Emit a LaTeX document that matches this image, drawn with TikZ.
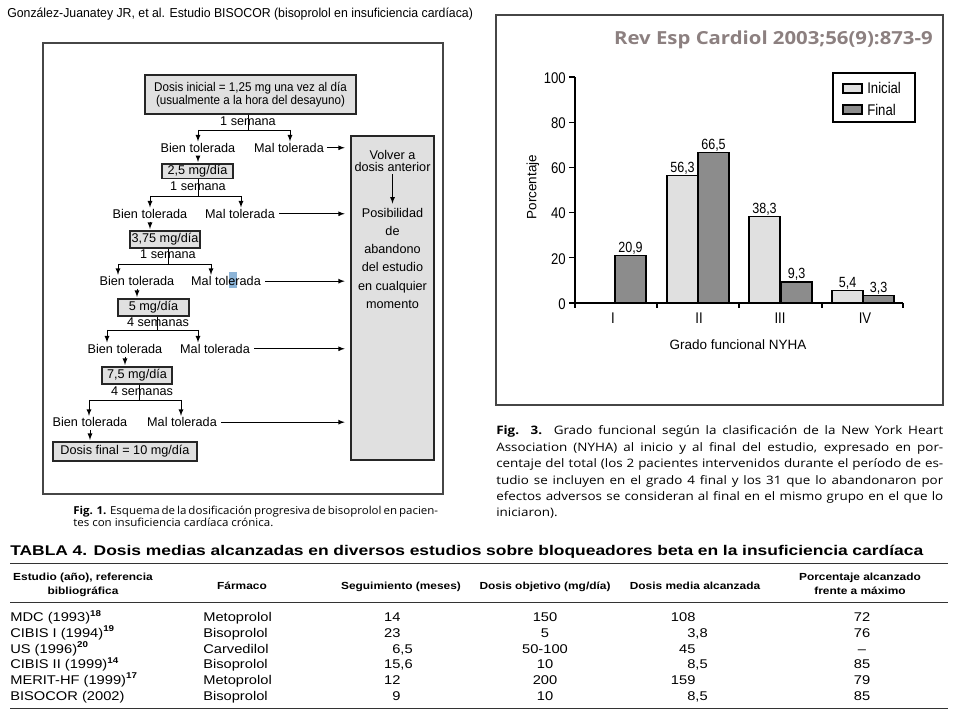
\documentclass[tikz,border=0pt]{standalone}
\usepackage{fontspec}
\setmainfont{Liberation Sans}
\newfontfamily\flowsans{Liberation Sans}
\newfontfamily\boxsans[FakeStretch=0.92]{Liberation Sans}
\newfontfamily\narrowsans[FakeStretch=0.95]{Liberation Sans}
\newfontfamily\chartsans[FakeStretch=0.85]{Liberation Sans}
\newfontfamily\widesans[FakeStretch=1.16]{Liberation Sans}
\newfontfamily\titlesans[FakeStretch=1.24]{Liberation Sans}
\newfontfamily\capsans[FakeStretch=1.15]{Open Sans}
\newfontfamily\capsansn[FakeStretch=1.05]{Open Sans}
\newfontfamily\revsans[FakeStretch=1.13]{Open Sans}

\newdimen\pxl \pxl=0.025cm
\newcommand{\fsz}[2]{\fontsize{#1}{#2}\selectfont}
\newcommand{\jline}[2]{\makebox[#1\pxl][s]{#2}}

\definecolor{boxgray}{RGB}{224,224,224}
\definecolor{bargray}{RGB}{140,140,140}
\definecolor{framegray}{RGB}{70,70,70}
\definecolor{revgray}{RGB}{140,128,128}
\definecolor{selblue}{RGB}{140,180,215}

\tikzset{
  frame/.style={draw=framegray, line width=1.2pt},
  flowtext/.style={font=\flowsans\fsz{9}{9.5}, inner sep=0pt, anchor=base},
  dosebox/.style 2 args={draw=black!85, line width=0.9pt, fill=boxgray, inner sep=0pt,
    align=center, font=\flowsans\fsz{9}{9.5}, minimum width=#1*\pxl, minimum height=#2*\pxl},
  sidebox/.style={draw=black!85, line width=0.9pt, fill=boxgray, inner sep=0pt,
    minimum width=83*\pxl, minimum height=324*\pxl},
  sidetext/.style={font=\flowsans\fsz{9}{#1}, inner sep=0pt, align=center, anchor=north},
  link/.style={line width=0.6pt},
  tip/.style={-latex, line width=0.6pt, shorten >=1pt},
  axisline/.style={line width=0.9pt},
  barbox/.style={draw=black, line width=0.9pt},
  ticklab/.style={font=\chartsans\fsz{11}{12}, inner sep=0pt},
  vallab/.style={font=\chartsans\fsz{10.5}{12}, inner sep=0pt, anchor=base},
  axislab/.style={font=\fsz{9.6}{11}, inner sep=0pt},
  headtext/.style={font=\narrowsans\fsz{9.2}{10}, inner sep=0pt, anchor=base west},
  captext/.style={font=\capsans\fsz{8.3}{10}, inner sep=0pt, anchor=base west},
  captextn/.style={font=\capsansn\fsz{7.8}{9}, inner sep=0pt, anchor=base west},
  tabtitle/.style={font=\titlesans\bfseries\fsz{10}{12}, inner sep=0pt, anchor=base west},
  tabhead/.style={font=\widesans\bfseries\fsz{7.3}{9}, inner sep=0pt, anchor=base},
  tabtext/.style={font=\widesans\fsz{9}{10}, inner sep=0pt},
  rule/.style={draw=black!80, line width=0.9pt}
}

\begin{document}
\begin{tikzpicture}[x=0.025cm, y=-0.025cm]
\useasboundingbox (0,0) rectangle (960,720);
\fill[white] (0,0) rectangle (960,720);

\node[headtext] (head) at (7,17.5) {González-Juanatey JR, et al. Estudio BISOCOR (bisoprolol en insuficiencia cardíaca)};

% figure frames
\draw[frame] (43,43) rectangle (443,494);
\draw[frame] (496,15) rectangle (943,405);

% Fig. 1: dosing scheme
\node[sidebox] (rb) at (392.5,298) {};
\node[sidetext=8.4] (v1) at (392.5,150) {Volver a\\dosis anterior};
\node[sidetext=12.95] (p1) at (392.5,207.8) {Posibilidad\\de\\abandono\\del estudio\\en cualquier\\momento};
\draw[tip, shorten <=2pt, shorten >=3pt] (v1.south) -- (p1.north);

\node[dosebox={211}{39}, font=\boxsans\fsz{9}{9.5}] (d0) at (250.5,94.5) {Dosis inicial = 1,25 mg una vez al día\\(usualmente a la hora del desayuno)};
\coordinate (j1) at (248,130); \coordinate (bl1) at (198,130); \coordinate (br1) at (290,130);
\node[flowtext] (s1) at (248,125.7) {1 semana};
\node[flowtext] (b1) at (198,152.3) {Bien tolerada};
\node[flowtext] (m1) at (289,152.3) {Mal tolerada};
\draw[link] (d0.south -| j1) -- (j1);
\draw[link] (bl1) -- (br1);
\draw[tip] (bl1) -- (bl1 |- b1.north);
\draw[tip] (br1) -- (br1 |- m1.north);
\draw[tip, shorten <=2pt, shorten >=4pt] (m1.east) -- (m1.east -| rb.west);

\node[dosebox={71}{14.3}] (d1) at (197.5,171.2) {2,5 mg/día};
\draw[tip, shorten <=2pt] (b1.south) -- (b1.south |- d1.north);
\coordinate (j2) at (198,196); \coordinate (bl2) at (150,196); \coordinate (br2) at (241,196);
\node[flowtext] (s2) at (198,191) {1 semana};
\node[flowtext] (b2) at (150,218.3) {Bien tolerada};
\node[flowtext] (m2) at (240,218.3) {Mal tolerada};
\draw[link] (d1.south -| j2) -- (j2);
\draw[link] (bl2) -- (br2);
\draw[tip] (bl2) -- (bl2 |- b2.north);
\draw[tip] (br2) -- (br2 |- m2.north);
\draw[tip, shorten <=3pt, shorten >=4pt] (m2.east) -- (m2.east -| rb.west);

\node[dosebox={70}{17}] (d2) at (165,239.5) {3,75 mg/día};
\draw[tip, shorten <=2pt] (b2.south) -- (b2.south |- d2.north);
\coordinate (j3) at (168,264); \coordinate (bl3) at (118,264); \coordinate (br3) at (211,264);
\node[flowtext] (s3) at (168,259) {1 semana};
\node[flowtext] (b3) at (137,285.7) {Bien tolerada};
\fill[selblue] (229,272) rectangle (237,288);
\node[flowtext] (m3) at (226,285.7) {Mal tolerada};
\draw[link] (d2.south -| j3) -- (j3);
\draw[link] (bl3) -- (br3);
\draw[tip] (bl3) -- (bl3 |- b3.north);
\draw[tip] (br3) -- (br3 |- m3.north);
\draw[tip, shorten <=3pt, shorten >=4pt] (m3.east) -- (m3.east -| rb.west);

\node[dosebox={71}{17}] (d3) at (153.5,307.5) {5 mg/día};
\draw[tip, shorten <=2pt] (b3.south) -- (b3.south |- d3.north);
\coordinate (j4) at (157,330); \coordinate (bl4) at (107,330); \coordinate (br4) at (198,330);
\node[flowtext] (s4) at (158,326.7) {4 semanas};
\node[flowtext] (b4) at (125,353.3) {Bien tolerada};
\node[flowtext] (m4) at (215,353.3) {Mal tolerada};
\draw[link] (d3.south -| j4) -- (j4);
\draw[link] (bl4) -- (br4);
\draw[tip] (bl4) -- (bl4 |- b4.north);
\draw[tip] (br4) -- (br4 |- m4.north);
\draw[tip, shorten <=3pt, shorten >=4pt] (m4.east) -- (m4.east -| rb.west);

\node[dosebox={70}{17}] (d4) at (137,375.5) {7,5 mg/día};
\draw[tip, shorten <=2pt] (b4.south) -- (b4.south |- d4.north);
\coordinate (j5) at (139,400); \coordinate (bl5) at (89,400); \coordinate (br5) at (181,400);
\node[flowtext] (s5) at (142,395.7) {4 semanas};
\node[flowtext] (b5) at (90,426.7) {Bien tolerada};
\node[flowtext] (m5) at (182,426.7) {Mal tolerada};
\draw[link] (d4.south -| j5) -- (j5);
\draw[link] (bl5) -- (br5);
\draw[tip] (bl5) -- (bl5 |- b5.north);
\draw[tip] (br5) -- (br5 |- m5.north);
\draw[tip, shorten <=3pt, shorten >=4pt] (m5.east) -- (m5.east -| rb.west);

\node[dosebox={144}{19}] (d5) at (125,451.5) {Dosis final = 10 mg/día};
\draw[tip, shorten <=2pt] (b5.south) -- (b5.south |- d5.north);

\node[captextn] (c1a) at (73,515) {\jline{360}{\textbf{Fig. 1.} Esquema de la dosificación progresiva de bisoprolol en pacien-}};
\node[captextn] (c1b) at (73,526.7) {tes con insuficiencia cardíaca crónica.};

% Fig. 3: bar chart
\node[font=\revsans\bfseries\fsz{12.8}{14}, text=revgray, inner sep=0pt, anchor=base east] (rev) at (933,45) {Rev Esp Cardiol 2003;56(9):873-9};
\draw[axisline] (575,77) -- (575,303) -- (903,303);
\foreach \v in {0,20,...,100} {
  \draw[axisline] (569,{303-2.26*\v}) -- (575,{303-2.26*\v});
  \node[ticklab, anchor=east] (yt\v) at (566,{304-2.26*\v}) {\v};
}
\foreach \x in {575,657,739,822,903}
  \draw[axisline] (\x,303) -- (\x,308);
\foreach \x/\g in {613/I,699/II,780/III,865/IV}
  \node[ticklab, anchor=base] (g\g) at (\x,323.3) {\g};
\node[axislab, anchor=base] (xlab) at (738,349.3) {Grado funcional NYHA};
\node[axislab, rotate=90] (ylab) at (533,187) {Porcentaje};

\foreach \xl/\val/\lab/\col in {615/20.9/{20,9}/bargray, 667/56.3/{56,3}/boxgray,
    698/66.5/{66,5}/bargray, 749/38.3/{38,3}/boxgray, 781/9.3/{9,3}/bargray,
    832/5.4/{5,4}/boxgray, 863/3.3/{3,3}/bargray} {
  \draw[barbox, fill=\col] (\xl,303) rectangle ({\xl+31},{303-2.26*\val});
  \node[vallab] (bv\xl) at ({\xl+15.5},{303-2.26*\val-3.2}) {\lab};
}

\draw[barbox] (833,73) rectangle (915,122);
\draw[barbox, fill=boxgray] (843,84) rectangle (862,93);
\draw[barbox, fill=bargray] (843,105) rectangle (862,114);
\node[ticklab, anchor=base west] (li) at (867,94) {Inicial};
\node[ticklab, anchor=base west] (lf) at (867,115.7) {Final};

\node[captext] (c3a) at (496,435) {\jline{447}{\textbf{Fig. 3.} Grado funcional según la clasificación de la New York Heart}};
\node[captext] (c3b) at (496,451.4) {\jline{447}{Association (NYHA) al inicio y al final del estudio, expresado en por-}};
\node[captext] (c3c) at (496,467.8) {\jline{447}{centaje del total (los 2 pacientes intervenidos durante el período de es-}};
\node[captext] (c3d) at (496,484.2) {\jline{447}{tudio se incluyen en el grado 4 final y los 31 que lo abandonaron por}};
\node[captext] (c3e) at (496,500.6) {\jline{447}{efectos adversos se consideran al final en el mismo grupo en el que lo}};
\node[captext] (c3f) at (496,517) {iniciaron).};

% Tabla 4
\node[tabtitle] (tt) at (10,556) {\jline{913}{TABLA 4. Dosis medias alcanzadas en diversos estudios sobre bloqueadores beta en la insuficiencia cardíaca}};
\draw[rule] (10,563.3) -- (948,563.3);
\draw[rule] (10,602.7) -- (948,602.7);
\draw[rule] (10,708.3) -- (948,708.3);
\node[tabhead] (h1a) at (83,580.7) {Estudio (año), referencia};
\node[tabhead] (h1b) at (83,595) {bibliográfica};
\node[tabhead] (h2) at (242,589.3) {Fármaco};
\node[tabhead] (h3) at (401,589.3) {Seguimiento (meses)};
\node[tabhead] (h4) at (545,589.3) {Dosis objetivo (mg/día)};
\node[tabhead] (h5) at (695,589.3) {Dosis media alcanzada};
\node[tabhead] (h6a) at (860,580.7) {Porcentaje alcanzado};
\node[tabhead] (h6b) at (860,595) {frente a máximo};
\foreach \i/\st/\fa/\se/\ob/\me/\po in {
    0/{MDC (1993)\textsuperscript{\bfseries 18}}/Metoprolol/{14\phantom{,0}}/150/{108\phantom{,0}}/72,
    1/{CIBIS I (1994)\textsuperscript{\bfseries 19}}/Bisoprolol/{23\phantom{,0}}/5/{3,8}/76,
    2/{US (1996)\textsuperscript{\bfseries 20}}/Carvedilol/{6,5}/50-100/{45\phantom{,0}}/–,
    3/{CIBIS II (1999)\textsuperscript{\bfseries 14}}/Bisoprolol/{15,6}/10/{8,5}/85,
    4/{MERIT-HF (1999)\textsuperscript{\bfseries 17}}/Metoprolol/{12\phantom{,0}}/200/{159\phantom{,0}}/79,
    5/{BISOCOR (2002)}/Bisoprolol/{9\phantom{,0}}/10/{8,5}/85} {
  \node[tabtext, anchor=base west] (st\i) at (10,{621.7+15.66*\i}) {\st};
  \node[tabtext, anchor=base west] (fa\i) at (203,{621.7+15.66*\i}) {\fa};
  \node[tabtext, anchor=base east] (se\i) at (413,{621.7+15.66*\i}) {\se};
  \node[tabtext, anchor=base] (ob\i) at (545,{621.7+15.66*\i}) {\ob};
  \node[tabtext, anchor=base east] (me\i) at (708,{621.7+15.66*\i}) {\me};
  \node[tabtext, anchor=base] (po\i) at (862,{621.7+15.66*\i}) {\po};
}
\end{tikzpicture}
\end{document}
